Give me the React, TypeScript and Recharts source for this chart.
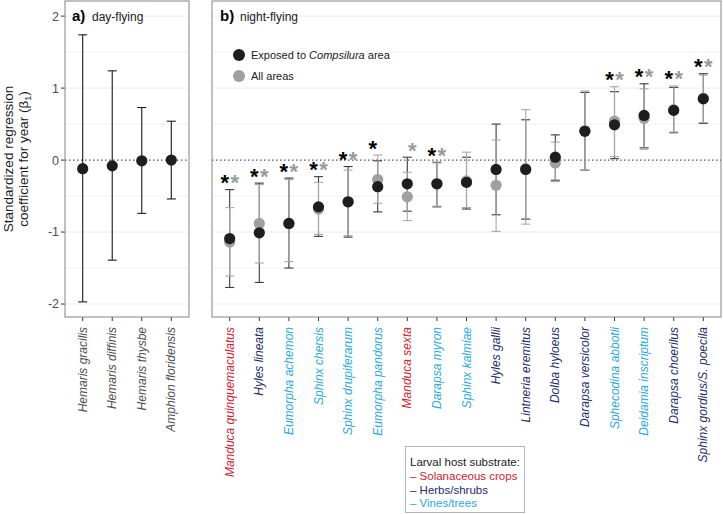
import React from "react";
import { ComposedChart, Scatter, ErrorBar, XAxis, YAxis, ReferenceLine, Legend } from "recharts";

const FONT = '"Liberation Sans", Arial, Helvetica, sans-serif';

// a) day-flying species (one estimate each)
const DAY_SPECIES = ["Hemaris gracilis", "Hemaris diffinis", "Hemaris thysbe", "Amphion floridensis"];
const DAY_EST = [-0.12, -0.08, -0.01, 0.0];
const DAY_LO = [-1.97, -1.39, -0.74, -0.54];
const DAY_HI = [1.74, 1.24, 0.73, 0.54];

// b) night-flying species
const NIGHT_SPECIES = [
  "Manduca quinquemaculatus", "Hyles lineata", "Eumorpha achemon", "Sphinx chersis",
  "Sphinx drupiferarum", "Eumorpha pandorus", "Manduca sexta", "Darapsa myron",
  "Sphinx kalmiae", "Hyles gallii", "Lintneria eremitus", "Dolba hyloeus",
  "Darapsa versicolor", "Sphecodina abbotii", "Deidamia inscriptum", "Darapsa choerilus",
  "Sphinx gordius/S. poecila",
];
const NIGHT_HOST = [
  "sol", "herb", "vine", "vine", "vine", "vine", "sol", "vine",
  "vine", "herb", "herb", "herb", "herb", "vine", "vine", "herb", "herb",
];

// exposed to Compsilura area (black)
const EXPOSED_EST = [-1.09, -1.01, -0.88, -0.65, -0.58, -0.37, -0.33, -0.33, -0.31, -0.13, -0.13, 0.04, 0.4, 0.49, 0.62, 0.69, 0.85];
const EXPOSED_LO = [-1.77, -1.7, -1.5, -1.06, -1.07, -0.72, -0.71, -0.65, -0.68, -0.76, -0.82, -0.28, -0.14, 0.02, 0.17, 0.38, 0.51];
const EXPOSED_HI = [-0.41, -0.32, -0.25, -0.23, -0.09, -0.01, 0.04, -0.03, 0.04, 0.5, 0.56, 0.35, 0.94, 0.95, 1.06, 1.01, 1.2];
const SIG_EXPOSED = [1, 1, 1, 1, 1, 1, 0, 1, 0, 0, 0, 0, 0, 1, 1, 1, 1];

// all areas (grey)
const ALL_EST = [-1.14, -0.88, -0.88, -0.68, -0.58, -0.27, -0.51, -0.33, -0.29, -0.35, -0.12, -0.04, 0.41, 0.54, 0.58, 0.7, 0.86];
const ALL_LO = [-1.61, -1.43, -1.41, -1.03, -1.05, -0.6, -0.84, -0.64, -0.66, -0.99, -0.89, -0.3, -0.14, 0.05, 0.15, 0.39, 0.52];
const ALL_HI = [-0.66, -0.34, -0.27, -0.31, -0.14, 0.07, -0.17, -0.04, 0.11, 0.28, 0.7, 0.25, 0.96, 1.02, 0.99, 1.03, 1.18];
const SIG_ALL = [1, 1, 1, 1, 1, 0, 1, 1, 0, 0, 0, 0, 0, 1, 1, 1, 1];

const HOST_COLORS: Record<string, string> = { sol: "#d2222d", herb: "#222c6a", vine: "#27a9e1" };
const HOST_LEGEND = [
  { key: "sol", label: "– Solanaceous crops" },
  { key: "herb", label: "– Herbs/shrubs" },
  { key: "vine", label: "– Vines/trees" },
];

const Y_DOMAIN: [number, number] = [-2.18, 2.21];
const Y_TICKS = [-2, -1, 0, 1, 2];
const GRID_VALUES = [-2, -1.5, -1, -0.5, 0.5, 1, 1.5, 2];
// ggplot-style discrete expansion (0.6 of a step on each side)
const X_PAD = 17.7;

const err = (est: number, lo: number, hi: number) => [est - lo, hi - est];

const dayData = DAY_SPECIES.map((name, i) => ({
  name,
  est: DAY_EST[i],
  estErr: err(DAY_EST[i], DAY_LO[i], DAY_HI[i]),
}));

const nightData = NIGHT_SPECIES.map((name, i) => ({
  name,
  host: NIGHT_HOST[i],
  exp: EXPOSED_EST[i],
  expErr: err(EXPOSED_EST[i], EXPOSED_LO[i], EXPOSED_HI[i]),
  all: ALL_EST[i],
  allErr: err(ALL_EST[i], ALL_LO[i], ALL_HI[i]),
  // stars sit just above the highest whisker
  star: Math.max(EXPOSED_HI[i], ALL_HI[i]) + 0.17,
  sigE: SIG_EXPOSED[i] === 1,
  sigA: SIG_ALL[i] === 1,
}));

const hostOf = (name: string) => nightData.find((d) => d.name === name)?.host ?? "herb";

function SpeciesTick(props: any) {
  const { x, y, payload, night } = props;
  const fill = night ? HOST_COLORS[hostOf(payload.value)] : "#4d4d4d";
  return (
    <text
      x={x}
      y={y}
      dy="0.35em"
      transform={`rotate(-90, ${x}, ${y})`}
      textAnchor="end"
      fontSize={12}
      fontStyle="italic"
      fontFamily={FONT}
      fill={fill}
    >
      {payload.value}
    </text>
  );
}

const dot = (fill: string) => (p: any) => <circle cx={p.cx} cy={p.cy} r={5.6} fill={fill} />;
const noDot = () => <g />;

function Stars(p: any) {
  const d = p.payload;
  const fs = 22;
  return (
    <g fontFamily={FONT} fontSize={fs} fontWeight="bold" textAnchor="middle">
      {d.sigE && (
        <text x={p.cx - 5} y={p.cy + fs * 0.58} fill="#000">*</text>
      )}
      {d.sigA && (
        <text x={p.cx + 5} y={p.cy + fs * 0.58} fill="#9a9a9a">*</text>
      )}
    </g>
  );
}

function SeriesLegend() {
  const rows = [
    { fill: "#1e1e1e", text: <>Exposed to <tspan fontStyle="italic">Compsilura</tspan> area</> },
    { fill: "#a0a0a0", text: <>All areas</> },
  ];
  return (
    <svg width={170} height={42} style={{ display: "block" }}>
      {rows.map((r, i) => (
        <g key={i}>
          <circle cx={7} cy={10 + i * 21} r={6} fill={r.fill} />
          <text x={19} y={10 + i * 21} dy="0.35em" fontSize={11} fontFamily={FONT} fill="#1a1a1a">
            {r.text}
          </text>
        </g>
      ))}
    </svg>
  );
}

const gridLines = GRID_VALUES.map((v) => (
  <ReferenceLine key={v} y={v} stroke="#ececec" strokeWidth={v % 1 === 0 ? 1 : 0.8} ifOverflow="visible" />
));

export default function App() {
  return (
    <div style={{ position: "absolute", left: 0, top: 0, width: 723, height: 514, background: "#fff", fontFamily: FONT }}>
      <div style={{ position: "absolute", left: 0, top: 0 }}>
        <ComposedChart width={200} height={514} data={dayData} margin={{ top: 1, right: 11, bottom: 47, left: 35 }}>
          {gridLines}
          <ReferenceLine y={0} stroke="#555" strokeDasharray="1.5 2.5" strokeWidth={1.1} />
          <XAxis
            dataKey="name"
            type="category"
            interval={0}
            height={150}
            padding={{ left: X_PAD, right: X_PAD }}
            axisLine={false}
            tickLine={{ stroke: "#333" }}
            tickSize={4}
            tickMargin={6}
            tick={(p: any) => <SpeciesTick {...p} night={false} />}
          />
          <YAxis
            type="number"
            domain={Y_DOMAIN}
            allowDataOverflow
            ticks={Y_TICKS}
            width={30}
            axisLine={false}
            tickLine={{ stroke: "#333" }}
            tickSize={4}
            tickMargin={2}
            tick={{ fontSize: 12.5, fill: "#4d4d4d", fontFamily: FONT }}
          />
          <Scatter dataKey="est" isAnimationActive={false} shape={dot("#1e1e1e")}>
            <ErrorBar dataKey="estErr" direction="y" width={4.5} stroke="#1a1a1a" strokeWidth={1.1} isAnimationActive={false} />
          </Scatter>
        </ComposedChart>
      </div>

      <div style={{ position: "absolute", left: 200, top: 0 }}>
        <ComposedChart width={523} height={514} data={nightData} margin={{ top: 1, right: 2, bottom: 47, left: 12 }}>
          {gridLines}
          <ReferenceLine y={0} stroke="#555" strokeDasharray="1.5 2.5" strokeWidth={1.1} />
          <XAxis
            dataKey="name"
            type="category"
            interval={0}
            height={150}
            padding={{ left: X_PAD, right: X_PAD }}
            axisLine={false}
            tickLine={{ stroke: "#333" }}
            tickSize={4}
            tickMargin={6}
            tick={(p: any) => <SpeciesTick {...p} night />}
          />
          <YAxis type="number" domain={Y_DOMAIN} allowDataOverflow ticks={Y_TICKS} hide />
          <Legend
            layout="vertical"
            align="center"
            verticalAlign="middle"
            wrapperStyle={{ left: 32, top: 45, width: "auto" }}
            content={() => <SeriesLegend />}
          />
          <Scatter dataKey="exp" name="exp-bars" legendType="none" isAnimationActive={false} shape={noDot}>
            <ErrorBar dataKey="expErr" direction="y" width={4.5} stroke="#3a3a3a" strokeWidth={1.1} isAnimationActive={false} />
          </Scatter>
          <Scatter dataKey="all" name="All areas" isAnimationActive={false} shape={dot("#a0a0a0")}>
            <ErrorBar dataKey="allErr" direction="y" width={4.5} stroke="#a8a8a8" strokeWidth={1.1} isAnimationActive={false} />
          </Scatter>
          <Scatter dataKey="exp" name="Exposed to Compsilura area" isAnimationActive={false} shape={dot("#1e1e1e")} />
          <Scatter dataKey="star" name="stars" legendType="none" isAnimationActive={false} shape={Stars} />
        </ComposedChart>
      </div>

      <svg
        width={723}
        height={514}
        style={{ position: "absolute", left: 0, top: 0, pointerEvents: "none" }}
        fontFamily={FONT}
      >
        {/* y-axis title */}
        <g transform="rotate(-90, 13, 159)">
          <text x={13} y={159} textAnchor="middle" fontSize={13.5} fill="#1a1a1a">Standardized regression</text>
        </g>
        <g transform="rotate(-90, 28, 159)">
          <text x={28} y={159} textAnchor="middle" fontSize={13.5} fill="#1a1a1a">
            coefficient for year (β<tspan fontSize={9} dy={3}>1</tspan><tspan dy={-3}>)</tspan>
          </text>
        </g>

        {/* panel borders */}
        <rect x={65} y={1} width={124} height={316} fill="none" stroke="#8f8f8f" strokeWidth={1.1} />
        <rect x={212} y={1} width={509} height={316} fill="none" stroke="#8f8f8f" strokeWidth={1.1} />

        {/* panel titles */}
        <text x={72} y={21} fontSize={15} fontWeight="bold" fill="#000">a)</text>
        <text x={92} y={21} fontSize={12} fill="#1a1a1a">day-flying</text>
        <text x={220} y={21} fontSize={15} fontWeight="bold" fill="#000">b)</text>
        <text x={240} y={21} fontSize={12} fill="#1a1a1a">night-flying</text>

        {/* host substrate key */}
        <rect x={405.5} y={446.5} width={119} height={66} fill="#fff" stroke="#b5b5b5" strokeWidth={1} />
        <text x={410} y={466} fontSize={11.5} fill="#1a1a1a">Larval host substrate:</text>
        {HOST_LEGEND.map((h, i) => (
          <text key={h.key} x={410} y={480 + i * 13.5} fontSize={11.5} fill={HOST_COLORS[h.key]}>
            {h.label}
          </text>
        ))}
      </svg>
    </div>
  );
}
